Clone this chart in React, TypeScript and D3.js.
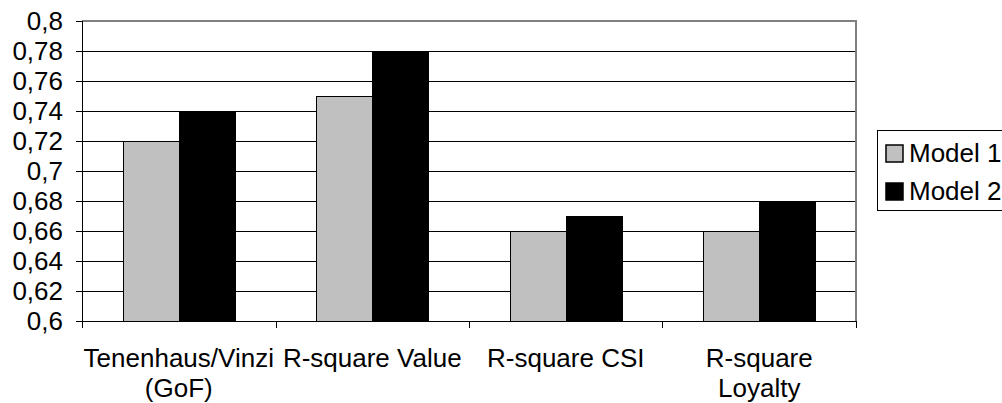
import React, { useEffect, useRef } from "react";
import * as d3 from "d3";

const categories = ["Tenenhaus/Vinzi (GoF)", "R-square Value", "R-square CSI", "R-square Loyalty"];
const seriesNames = ["Model 1", "Model 2"];
const model1 = [0.72, 0.75, 0.66, 0.66];
const model2 = [0.74, 0.78, 0.67, 0.68];
const yTickValues = [0.6, 0.62, 0.64, 0.66, 0.68, 0.7, 0.72, 0.74, 0.76, 0.78, 0.8];
const seriesColors = ["#C0C0C0", "#000000"];

const W = 1002;
const H = 403;
const FONT = "'Liberation Sans', Arial, sans-serif";

export default function App() {
  const ref = useRef<SVGSVGElement | null>(null);

  useEffect(() => {
    const svg = d3.select(ref.current);
    svg.selectAll("*").remove();

    const left = 82, right = 856, top = 21, bottom = 321;
    const y = d3.scaleLinear().domain([0.6, 0.8]).range([bottom, top]);
    const x = d3.scaleBand<string>().domain(categories).range([left, right]).paddingInner(0.421).paddingOuter(0.2105);
    const xs = d3.scaleBand<string>().domain(seriesNames).range([0, x.bandwidth()]);
    const series = [model1, model2];

    const g = svg.append("g").attr("shape-rendering", "crispEdges");

    // gridlines
    g.selectAll("line.grid")
      .data(yTickValues.filter((v) => v !== 0.6 && v !== 0.8))
      .enter()
      .append("line")
      .attr("x1", left)
      .attr("x2", right)
      .attr("y1", (d) => Math.round(y(d)) + 0.5)
      .attr("y2", (d) => Math.round(y(d)) + 0.5)
      .attr("stroke", "#000")
      .attr("stroke-width", 1);

    // plot frame top & right (gray)
    g.append("line").attr("x1", left).attr("x2", right + 1).attr("y1", top).attr("y2", top).attr("stroke", "#808080").attr("stroke-width", 2);
    g.append("line").attr("x1", right).attr("x2", right).attr("y1", top).attr("y2", bottom).attr("stroke", "#808080").attr("stroke-width", 2);

    // bars
    categories.forEach((c, i) => {
      series.forEach((s, j) => {
        const x0 = (x(c) as number) + (xs(seriesNames[j]) as number);
        g.append("rect")
          .attr("x", Math.round(x0) + 0.5)
          .attr("y", Math.round(y(s[i])) + 0.5)
          .attr("width", Math.round(xs.bandwidth()))
          .attr("height", Math.round(y(0.6)) - Math.round(y(s[i])))
          .attr("fill", seriesColors[j])
          .attr("stroke", "#000")
          .attr("stroke-width", 1);
      });
    });

    // axes
    g.append("line").attr("x1", left + 0.5).attr("x2", left + 0.5).attr("y1", top).attr("y2", bottom + 1).attr("stroke", "#000");
    g.append("line").attr("x1", left).attr("x2", right + 1).attr("y1", bottom + 0.5).attr("y2", bottom + 0.5).attr("stroke", "#000");

    // y ticks and labels
    yTickValues.forEach((v) => {
      const yy = Math.round(y(v)) + 0.5;
      g.append("line").attr("x1", left - 6).attr("x2", left).attr("y1", yy).attr("y2", yy).attr("stroke", "#000");
      svg.append("text")
        .attr("x", 63)
        .attr("y", y(v))
        .attr("dy", "0.35em")
        .attr("text-anchor", "end")
        .attr("font-family", FONT)
        .attr("font-size", 26)
        .attr("fill", "#000")
        .text(d3.format(".2~f")(v).replace(".", ","));
    });

    // x ticks at band boundaries
    const gap = (x.step() - x.bandwidth()) / 2;
    const bounds = categories.map((c) => (x(c) as number) - gap).concat([(x(categories[categories.length - 1]) as number) + x.bandwidth() + gap]);
    bounds.forEach((b) => {
      const bx = Math.round(b) + 0.5;
      g.append("line").attr("x1", bx).attr("x2", bx).attr("y1", bottom).attr("y2", bottom + 7).attr("stroke", "#000");
    });

    // x labels with wrapping
    categories.forEach((c) => {
      const cx = (x(c) as number) + x.bandwidth() / 2;
      const t = svg.append("text")
        .attr("text-anchor", "middle")
        .attr("font-family", FONT)
        .attr("font-size", 26)
        .attr("fill", "#000");
      const words = c.split(" ");
      const lines: string[] = [];
      let cur = "";
      const probe = svg.append("text").attr("font-family", FONT).attr("font-size", 26);
      words.forEach((w) => {
        const test = cur ? cur + " " + w : w;
        probe.text(test);
        const len = (probe.node() as SVGTextElement).getComputedTextLength();
        if (len > x.step() && cur) {
          lines.push(cur);
          cur = w;
        } else {
          cur = test;
        }
      });
      if (cur) lines.push(cur);
      probe.remove();
      lines.forEach((ln, k) => {
        t.append("tspan").attr("x", cx).attr("y", 367 + k * 30).text(ln);
      });
    });

    // legend
    const lg = svg.append("g");
    lg.append("rect").attr("x", 877.5).attr("y", 130.5).attr("width", 140).attr("height", 80).attr("fill", "#fff").attr("stroke", "#000").attr("stroke-width", 1).attr("shape-rendering", "crispEdges");
    seriesNames.forEach((n, j) => {
      const yy = 145 + j * 38;
      lg.append("rect").attr("x", 886).attr("y", yy).attr("width", 17).attr("height", 17)
        .attr("fill", seriesColors[j]).attr("stroke", "#000").attr("stroke-width", 1.5);
      lg.append("text").attr("x", 909).attr("y", yy + 17).attr("font-family", FONT).attr("font-size", 26).attr("fill", "#000").text(n);
    });
  }, []);

  return (
    <svg
      ref={ref}
      width={W}
      height={H}
      style={{ position: "absolute", left: 0, top: 0, background: "#fff", display: "block" }}
    />
  );
}
